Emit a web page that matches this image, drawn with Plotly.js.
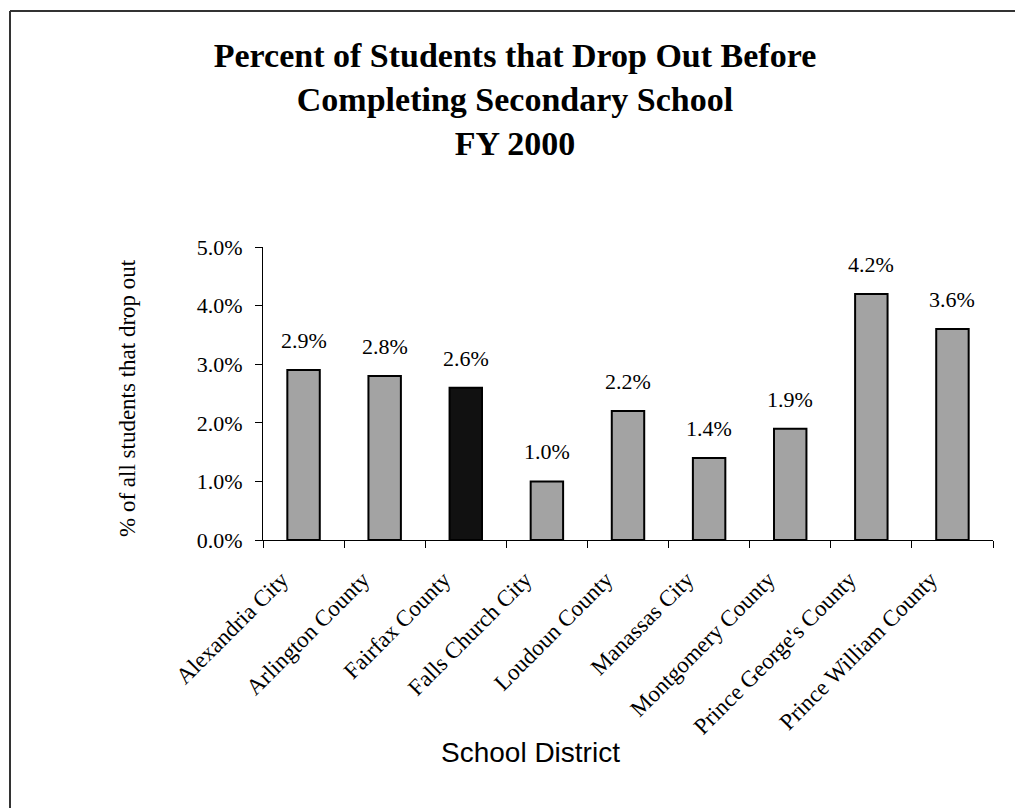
<!DOCTYPE html>
<html>
<head>
<meta charset="utf-8">
<script src="https://cdn.plot.ly/plotly-3.0.1.min.js"></script>
<style>
  html, body { margin: 0; padding: 0; background: #fff; }
  #chart { width: 1015px; height: 808px; }
</style>
</head>
<body>
<div id="chart"></div>
<script>
const districts = ["Alexandria City", "Arlington County", "Fairfax County", "Falls Church City",
  "Loudoun County", "Manassas City", "Montgomery County", "Prince George's County", "Prince William County"];
const dropoutPct = [2.9, 2.8, 2.6, 1.0, 2.2, 1.4, 1.9, 4.2, 3.6];
const barColors = ["#a3a3a3", "#a3a3a3", "#111111", "#a3a3a3", "#a3a3a3", "#a3a3a3", "#a3a3a3", "#a3a3a3", "#a3a3a3"];
const yTickVals = [0, 1, 2, 3, 4, 5];
const yTickText = ["0.0%", "1.0%", "2.0%", "3.0%", "4.0%", "5.0%"];

const serif = "Liberation Serif, Times New Roman, serif";

const trace = {
  type: "bar",
  x: districts,
  y: dropoutPct,
  marker: { color: barColors, line: { color: "#000", width: 2 } },
  hoverinfo: "x+y",
  showlegend: false
};

const labelAnns = districts.map((d, i) => ({
  x: d, y: dropoutPct[i], xref: "x", yref: "y",
  text: dropoutPct[i].toFixed(1) + "%",
  showarrow: false, yanchor: "bottom", yshift: 15,
  font: { family: serif, size: 22, color: "#000" }
}));

const PL = 263, PR = 993, PT = 247, PB = 540;
const W = 1015, H = 808;
const px = v => (v - PL) / (PR - PL);
const py = v => (PB - v) / (PB - PT);

const layout = {
  width: W, height: H,
  paper_bgcolor: "#fff", plot_bgcolor: "#fff",
  margin: { l: PL, r: W - PR, t: PT, b: H - PB, pad: 0 },
  bargap: 0.6,
  title: {
    text: "<b>Percent of Students that Drop Out Before<br>Completing Secondary School<br>FY 2000</b>",
    font: { family: serif, size: 34, color: "#000" },
    x: 515 / W, xanchor: "center", xref: "container",
    y: 1 - 67 / H, yanchor: "top", yref: "container"
  },
  xaxis: {
    type: "category",
    tickangle: -45,
    tickson: "boundaries",
    ticks: "outside", ticklen: 7, tickcolor: "#000", tickwidth: 1,
    showline: true, linecolor: "#000", linewidth: 1,
    showgrid: false, zeroline: false,
    ticklabelstandoff: 16,
    ticklabelshift: -22,
    tickfont: { family: serif, size: 23, color: "#000" }
  },
  yaxis: {
    range: [0, 5],
    tickvals: yTickVals, ticktext: yTickText,
    ticks: "outside", ticklen: 7, tickcolor: "#000", tickwidth: 1,
    showline: true, linecolor: "#000", linewidth: 1,
    showgrid: false, zeroline: false,
    ticklabelstandoff: 8,
    tickfont: { family: serif, size: 22, color: "#000" }
  },
  annotations: labelAnns.concat([
    {
      xref: "paper", yref: "paper",
      x: px(127), y: py(398),
      text: "% of all students that drop out", showarrow: false, textangle: -90,
      xanchor: "center", yanchor: "middle",
      font: { family: serif, size: 23, color: "#000" }
    },
    {
      xref: "paper", yref: "paper",
      x: px(530), y: py(752),
      text: "School District", showarrow: false,
      xanchor: "center", yanchor: "middle",
      font: { family: "Liberation Sans, Arial, sans-serif", size: 28, color: "#000" }
    }
  ]),
  shapes: [
    { type: "line", xref: "paper", yref: "paper",
      x0: px(10), x1: px(W + 5), y0: py(11), y1: py(11),
      line: { color: "#333", width: 2 } },
    { type: "line", xref: "paper", yref: "paper",
      x0: px(10), x1: px(10), y0: py(11), y1: py(H + 5),
      line: { color: "#333", width: 2 } }
  ]
};

Plotly.newPlot("chart", [trace], layout, { displayModeBar: false, staticPlot: true });
</script>
</body>
</html>
